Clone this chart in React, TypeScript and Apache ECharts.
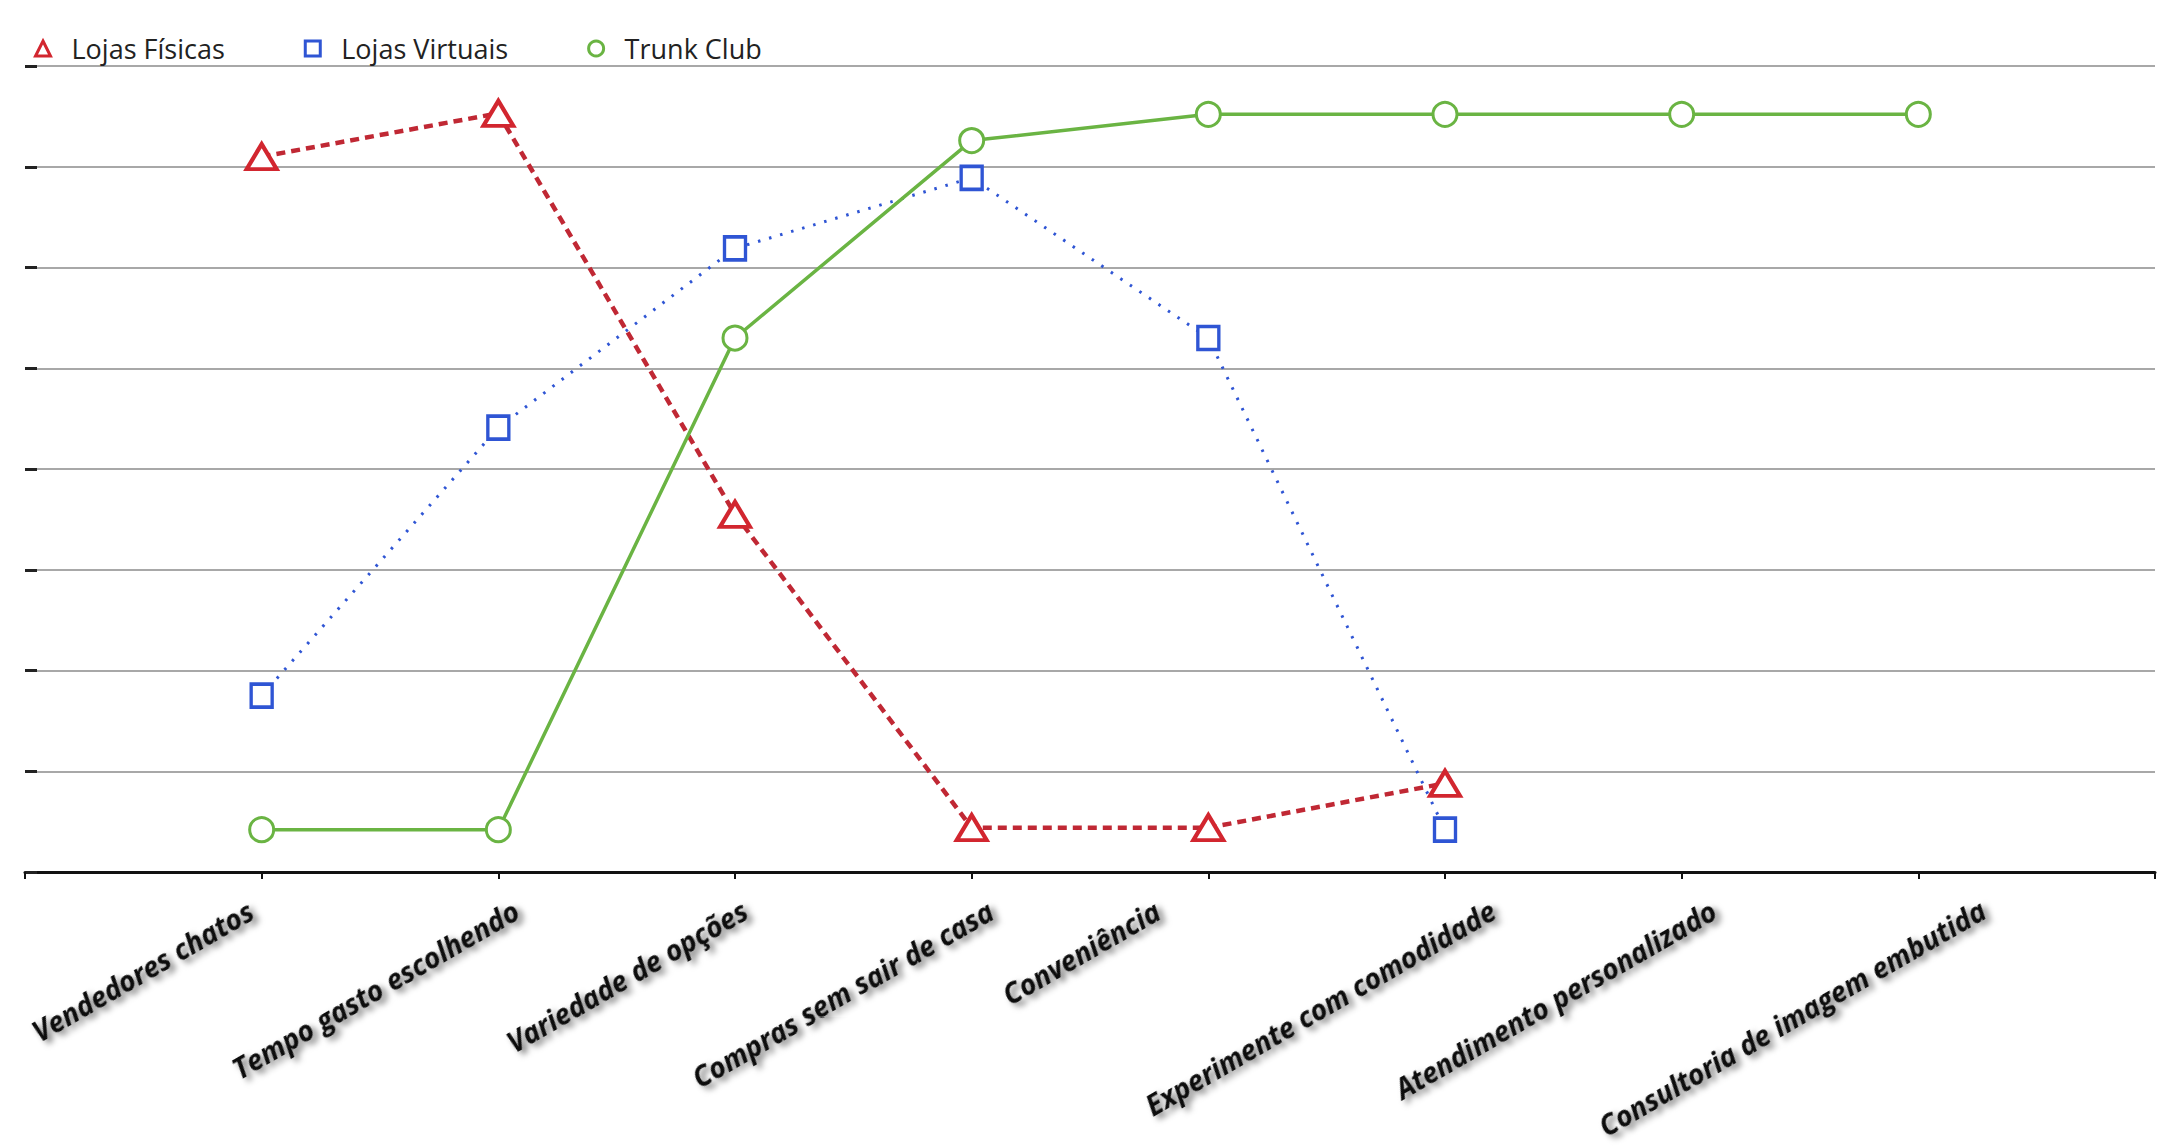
import React, { useEffect, useRef } from "react";
import * as echarts from "echarts";

const categories = [
  "",
  "Vendedores chatos",
  "Tempo gasto escolhendo",
  "Variedade de opções",
  "Compras sem sair de casa",
  "Conveniência",
  "Experimente com comodidade",
  "Atendimento personalizado",
  "Consultoria de imagem embutida",
  "",
];
const seriesNames = ["Lojas Físicas", "Lojas Virtuais", "Trunk Club"];
const lojasFisicas = [null, 7.1, 7.53, 3.55, 0.44, 0.44, 0.88, null, null, null];
const lojasVirtuais = [null, 1.75, 4.41, 6.19, 6.89, 5.3, 0.42, null, null, null];
const trunkClub = [null, 0.42, 0.42, 5.3, 7.26, 7.52, 7.52, 7.52, 7.52, null];

// horizontal nudge (px) of each rotated tick label, as in the original layout
const labelNudge = [0, -11, 18, 10, 19, -51, 48, 32, 65, 0];

const RED = "#d2262f";
const RED_LINE = "#c02834";
const BLUE = "#2f55d4";
const GREEN = "#6ab443";

export default function App() {
  const ref = useRef<HTMLDivElement>(null);
  useEffect(() => {
    document.body.style.margin = "0";
    const chart = echarts.init(ref.current!, null, { renderer: "svg" });
    const axisData = categories.map((c, i) => {
      const h = labelNudge[i];
      const along = 0.866 * h; // shift along text direction
      const perp = 0.5 * h; // shift perpendicular (towards text bottom)
      const ts: any = { padding: [0, -along, 0, 0] };
      if (perp > 0.5) {
        ts.verticalAlign = "top";
        ts.lineHeight = 2 * perp;
      } else if (perp < -0.5) {
        ts.verticalAlign = "bottom";
        ts.lineHeight = -2 * perp;
      }
      return { value: c, textStyle: ts };
    });
    chart.setOption({
      animation: false,
      backgroundColor: "#ffffff",
      legend: {
        left: 34,
        top: 35,
        itemWidth: 15,
        itemHeight: 15,
        itemGap: 79,
        padding: 0,
        textStyle: { fontFamily: "Open Sans", fontSize: 27, color: "#222", padding: [0, 0, 0, 16] },
        data: [
          { name: seriesNames[0], icon: "triangle", itemStyle: { color: "#fff", borderColor: RED, borderWidth: 3 } },
          { name: seriesNames[1], icon: "rect", itemStyle: { color: "#fff", borderColor: BLUE, borderWidth: 3 } },
          { name: seriesNames[2], icon: "circle", itemStyle: { color: "#fff", borderColor: GREEN, borderWidth: 3 } },
        ],
      },
      grid: { left: 25, right: 15, top: 66, bottom: 276, containLabel: false, outerBoundsMode: "none" },
      xAxis: {
        type: "category",
        data: axisData,
        boundaryGap: false,
        axisLine: { show: true, lineStyle: { color: "#111", width: 3 } },
        axisTick: { show: true, alignWithLabel: true, length: 7, lineStyle: { color: "#111", width: 2 } },
        axisLabel: {
          interval: 0,
          rotate: 30,
          margin: 36,
          fontFamily: "Open Sans",
          fontWeight: "bold",
          fontStyle: "italic",
          fontSize: 28,
          color: "#111",
          textShadowColor: "rgba(0,0,0,0.55)",
          textShadowBlur: 6,
          textShadowOffsetX: 3,
          textShadowOffsetY: 5,
        },
        splitLine: { show: false },
      },
      yAxis: {
        type: "value",
        min: 0,
        max: 8,
        interval: 1,
        axisLine: { show: false },
        axisTick: { show: true, inside: true, length: 12, lineStyle: { color: "#222", width: 3 } },
        axisLabel: { show: false },
        splitLine: { show: true, lineStyle: { color: "#a8a8a8", width: 2 } },
      },
      series: [
        {
          name: seriesNames[0],
          type: "line",
          data: lojasFisicas,
          symbol: "triangle",
          symbolSize: [30, 25],
          lineStyle: { color: RED_LINE, width: 4.5, type: [9, 6] },
          itemStyle: { color: "#fff", borderColor: RED, borderWidth: 4 },
          z: 3,
        },
        {
          name: seriesNames[1],
          type: "line",
          data: lojasVirtuais,
          symbol: "rect",
          symbolSize: [21, 23],
          lineStyle: { color: BLUE, width: 3, type: [2.5, 9] },
          itemStyle: { color: "#fff", borderColor: BLUE, borderWidth: 3.5 },
          z: 2,
        },
        {
          name: seriesNames[2],
          type: "line",
          data: trunkClub,
          symbol: "circle",
          symbolSize: 24,
          lineStyle: { color: GREEN, width: 3.5, type: "solid" },
          itemStyle: { color: "#fff", borderColor: GREEN, borderWidth: 3 },
          z: 4,
        },
      ],
    });
    return () => chart.dispose();
  }, []);
  return <div ref={ref} style={{ width: 2170, height: 1148 }} />;
}
